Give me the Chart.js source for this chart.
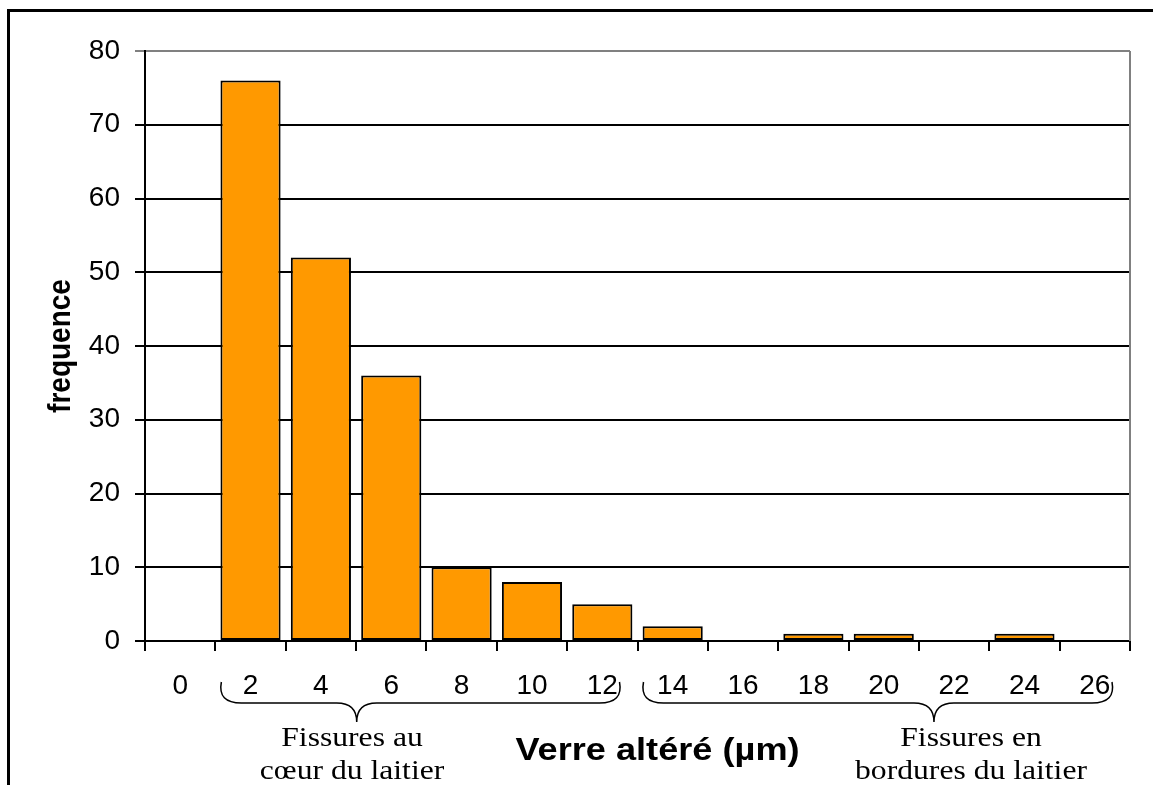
<!DOCTYPE html>
<html>
<head>
<meta charset="utf-8">
<title>Verre altéré - fréquence</title>
<script src="https://cdn.jsdelivr.net/npm/chart.js@4/dist/chart.umd.min.js"></script>
<style>
    html, body { margin: 0; padding: 0; background: #ffffff; }
    #wrap { width: 1153px; height: 785px; }
</style>
</head>
<body>
<div id="wrap"><canvas id="verreChart" width="1153" height="785"></canvas></div>
<script>
// ==================== DATA ====================
var categories = ['0', '2', '4', '6', '8', '10', '12', '14', '16', '18', '20', '22', '24', '26'];
var frequencies = [0, 76, 52, 36, 10, 8, 5, 2, 0, 1, 1, 0, 1, 0];
var yTicks = [0, 10, 20, 30, 40, 50, 60, 70, 80];

var yTitle = 'frequence';
var xTitle = 'Verre altéré (µm)';
// groups under the axis: first / last category of each brace
var groupCoeur = { from: '2', to: '12', lines: ['Fissures au', 'cœur du laitier'] };
var groupBord = { from: '14', to: '26', lines: ['Fissures en', 'bordures du laitier'] };

var SANS = "'Liberation Sans', Arial, sans-serif";
var SERIF = "'Liberation Serif', 'Times New Roman', serif";
var STRETCH = 1.13; // the original text is a bit wider than tall

// brace from the left edge of one category to the right edge of another
function drawBrace(ctx, x1, x2, xm, yTop, yLine, yTip) {
    var r = 20;
    ctx.beginPath();
    ctx.moveTo(x1, yTop);
    ctx.quadraticCurveTo(x1 - 4, yLine, x1 + r, yLine);
    ctx.lineTo(xm - r, yLine);
    ctx.quadraticCurveTo(xm, yLine, xm, yTip);
    ctx.quadraticCurveTo(xm, yLine, xm + r, yLine);
    ctx.lineTo(x2 - r, yLine);
    ctx.quadraticCurveTo(x2 + 4, yLine, x2, yTop);
    ctx.stroke();
}

function stretchedText(ctx, text, x, y, font) {
    ctx.save();
    ctx.translate(x, y);
    ctx.scale(STRETCH, 1);
    ctx.font = font;
    ctx.fillText(text, 0, 0);
    ctx.restore();
}

var decorPlugin = {
    id: 'decor',
    beforeDraw: function(chart) {
        var ctx = chart.ctx;
        ctx.save();
        ctx.fillStyle = '#ffffff';
        ctx.fillRect(0, 0, chart.width, chart.height);
        ctx.restore();
    },
    afterDraw: function(chart) {
        var ctx = chart.ctx;
        var area = chart.chartArea;
        var xs = chart.scales.x;

        ctx.save();
        // outer frame (cut off on the right and at the bottom)
        ctx.strokeStyle = '#000000';
        ctx.lineWidth = 3;
        ctx.strokeRect(8.5, 10.5, chart.width + 20, chart.height + 20);

        // plot area border on the right
        ctx.strokeStyle = '#808080';
        ctx.lineWidth = 2;
        ctx.beginPath();
        ctx.moveTo(area.right, area.top);
        ctx.lineTo(area.right, area.bottom);
        ctx.stroke();

        // y title
        ctx.fillStyle = '#000000';
        ctx.textAlign = 'center';
        ctx.textBaseline = 'middle';
        ctx.save();
        ctx.translate(61, (area.top + area.bottom) / 2);
        ctx.scale(STRETCH, 1);
        ctx.rotate(-Math.PI / 2);
        ctx.font = 'bold 28px ' + SANS;
        ctx.fillText(yTitle, 0, 0);
        ctx.restore();

        // x title
        ctx.textBaseline = 'alphabetic';
        stretchedText(ctx, xTitle, (area.left + area.right) / 2 + 20, 760, 'bold 32px ' + SANS);

        // braces and their captions
        ctx.strokeStyle = '#000000';
        ctx.lineWidth = 1.5;
        [groupCoeur, groupBord].forEach(function(g) {
            var i1 = categories.indexOf(g.from);
            var i2 = categories.indexOf(g.to);
            var half = (xs.getPixelForValue(1) - xs.getPixelForValue(0)) / 2;
            var x1 = xs.getPixelForValue(i1) - half + 6;
            var x2 = xs.getPixelForValue(i2) + half - 18;
            var xm = x1 + (x2 - x1) * (g === groupCoeur ? 0.34 : 0.62);
            drawBrace(ctx, x1, x2, xm, 682, 703, 722);
            var cx = g === groupCoeur ? 352 : 971;
            stretchedText(ctx, g.lines[0], cx, 746, '28px ' + SERIF);
            stretchedText(ctx, g.lines[1], cx, 779, '28px ' + SERIF);
        });
        ctx.restore();
    }
};

// ==================== CHART ====================
var chart = new Chart(document.getElementById('verreChart'), {
    type: 'bar',
    data: {
        labels: categories,
        datasets: [{
            label: yTitle,
            data: frequencies,
            backgroundColor: '#FF9900',
            borderColor: '#000000',
            borderWidth: 2,
            borderSkipped: false,
            barPercentage: 0.855,
            categoryPercentage: 1
        }]
    },
    options: {
        responsive: false,
        animation: false,
        devicePixelRatio: 1,
        layout: { padding: { top: 51, right: 23, left: 0, bottom: 0 } },
        plugins: {
            legend: { display: false },
            tooltip: { enabled: false }
        },
        scales: {
            x: {
                offset: true,
                grid: {
                    display: true,
                    offset: true,
                    drawOnChartArea: false,
                    drawTicks: true,
                    tickLength: 10,
                    color: '#000000',
                    lineWidth: 2
                },
                border: { display: true, color: '#000000', width: 2 },
                ticks: {
                    color: '#000000',
                    font: { family: SANS, size: 28 },
                    padding: 18,
                    maxRotation: 0,
                    autoSkip: false
                },
                afterFit: function(scale) { scale.height = 144; }
            },
            y: {
                min: 0,
                max: 80,
                afterBuildTicks: function(scale) {
                    scale.ticks = yTicks.map(function(v) { return { value: v }; });
                },
                grid: {
                    drawTicks: true,
                    tickLength: 10,
                    lineWidth: 2,
                    color: function(c) { return c.tick && c.tick.value === 80 ? '#808080' : '#000000'; }
                },
                border: { display: true, color: '#000000', width: 2 },
                ticks: {
                    color: '#000000',
                    font: { family: SANS, size: 28 },
                    padding: 15
                },
                afterFit: function(scale) { scale.width = 145; }
            }
        }
    },
    plugins: [decorPlugin]
});
</script>
</body>
</html>
